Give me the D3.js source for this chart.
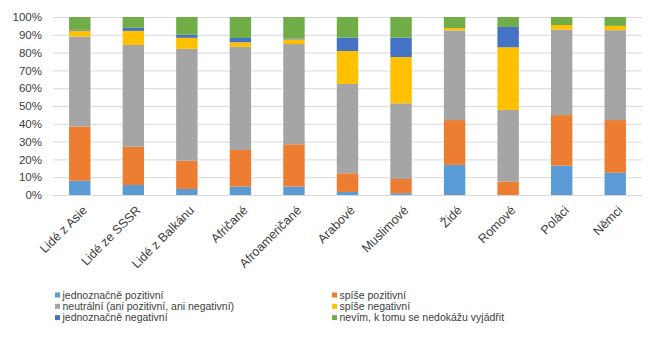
<!DOCTYPE html>
<html>
<head>
<meta charset="utf-8">
<script src="https://cdn.jsdelivr.net/npm/d3@7"></script>
<style>
  body { margin: 0; background: #fff; }
  text { font-family: "Liberation Sans", Arial, sans-serif; fill: #404040; }
</style>
</head>
<body>
<div id="container"></div>
<script>
/* DATA */
const categories = ["Lidé z Asie", "Lidé ze SSSR", "Lidé z Balkánu", "Afričané", "Afroameričané",
  "Arabové", "Muslimové", "Židé", "Romové", "Poláci", "Němci"];

const seriesNames = ["jednoznačně pozitivní", "spíše pozitivní", "neutrální (ani pozitivní, ani negativní)",
  "spíše negativní", "jednoznačně negativní", "nevím, k tomu se nedokážu vyjádřit"];

// percentages per category, in category order
const jednoznacnePozitivni = [8, 5.6, 3.4, 4.7, 4.7, 1.7, 1, 16.9, 0, 16.5, 12.5];
const spisePozitivni       = [30.5, 21.5, 15.9, 20.6, 23.8, 10.5, 8, 25.2, 7.5, 28.4, 29.6];
const neutralni            = [50.5, 57.2, 62.8, 57.9, 56.3, 50.2, 42.5, 50.4, 40.3, 48, 50.5];
const spiseNegativni       = [3.3, 7.9, 6.2, 2.6, 2.6, 18.5, 26, 1.3, 35.2, 2.6, 2.4];
const jednoznacneNegativni = [0.5, 1.7, 1.7, 2.4, 0.5, 7.5, 10.9, 0, 11.4, 0, 0];
const nevim                = [7.2, 6.1, 10, 11.8, 12.1, 11.6, 11.6, 6.2, 5.6, 4.5, 5];

const yTicks = [0, 10, 20, 30, 40, 50, 60, 70, 80, 90, 100];

const colors = ["#5B9BD5", "#ED7D31", "#A5A5A5", "#FFC000", "#4472C4", "#70AD47"];

/* CONSTANTS */
const width = 658, height = 352;
const margin = { top: 17, left: 53, right: 16, bottom: 157 };

const allSeries = [jednoznacnePozitivni, spisePozitivni, neutralni, spiseNegativni, jednoznacneNegativni, nevim];
const keys = seriesNames;
const table = categories.map((c, i) => {
  const row = { cat: c };
  keys.forEach((k, j) => row[k] = allSeries[j][i]);
  return row;
});

const svg = d3.select("#container").append("svg")
  .attr("width", width)
  .attr("height", height);

const xScale = d3.scaleBand()
  .domain(categories)
  .range([margin.left, width - margin.right])
  .paddingInner(0.6)
  .paddingOuter(0.3);

const yScale = d3.scaleLinear()
  .domain([0, 100])
  .range([height - margin.bottom, margin.top]);

// gridlines + y labels
const yAxis = d3.axisLeft(yScale)
  .tickValues(yTicks)
  .tickSize(-(width - margin.right - margin.left))
  .tickPadding(11)
  .tickFormat(d => d + "%");

svg.append("g")
  .attr("transform", `translate(${margin.left},0)`)
  .call(yAxis)
  .call(g => g.select(".domain").remove())
  .call(g => g.selectAll("line").attr("stroke", "#d9d9d9"))
  .call(g => g.selectAll("text").style("font-size", "11.5px").attr("fill", "#404040"));

// stacked bars
const stacked = d3.stack().keys(keys)(table);

svg.append("g").selectAll("g")
  .data(stacked)
  .join("g")
  .attr("fill", (d, i) => colors[i])
  .selectAll("rect")
  .data(d => d)
  .join("rect")
  .attr("x", d => xScale(d.data.cat))
  .attr("width", xScale.bandwidth())
  .attr("y", d => yScale(d[1]))
  .attr("height", d => yScale(d[0]) - yScale(d[1]));

// x labels, rotated
svg.append("g").selectAll("text")
  .data(categories)
  .join("text")
  .attr("transform", d => `translate(${xScale(d) + xScale.bandwidth() / 2 + 5},${height - margin.bottom + 13}) rotate(-45)`)
  .attr("text-anchor", "end")
  .attr("dy", "0.35em")
  .style("font-size", "12.5px")
  .text(d => d);

// legend
const legend = svg.append("g").selectAll("g")
  .data(seriesNames)
  .join("g")
  .attr("transform", (d, i) => `translate(${i % 2 === 0 ? 55 : 332},${295 + Math.floor(i / 2) * 11.3})`);

legend.append("rect")
  .attr("x", 0)
  .attr("y", -2.5)
  .attr("width", 5)
  .attr("height", 5)
  .attr("fill", (d, i) => colors[i]);

legend.append("text")
  .attr("x", 7.5)
  .attr("dy", "0.35em")
  .style("font-size", "10.5px")
  .text(d => d);
</script>
</body>
</html>
